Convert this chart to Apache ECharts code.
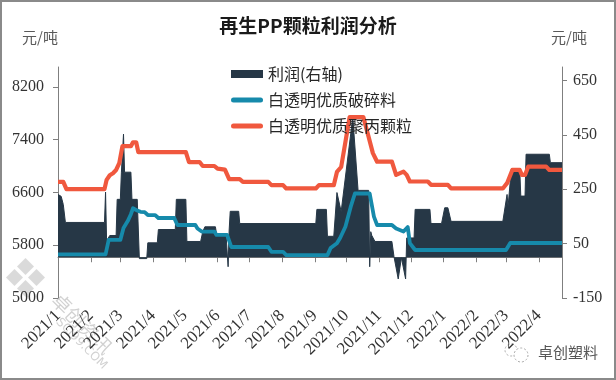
<!DOCTYPE html>
<html><head><meta charset="utf-8">
<script src="https://cdn.jsdelivr.net/npm/echarts@6/dist/echarts.min.js"></script>
<style>
html,body{margin:0;padding:0;background:#fff;}
#chart{position:absolute;left:0;top:0;width:616px;height:380px;}
#frame{position:absolute;left:0;top:0;width:616px;height:380px;box-sizing:border-box;border:2px solid #8a8a8a;pointer-events:none;}
</style></head>
<body>
<div id="chart"></div><div id="frame"></div>
<script>
const monthLabels = ['2021/1','2021/2','2021/3','2021/4','2021/5','2021/6','2021/7','2021/8','2021/9','2021/10','2021/11','2021/12','2022/1','2022/2','2022/3','2022/4'];
const leftTicks = [5000, 5800, 6600, 7400, 8200];
const rightTicks = [-150, 50, 250, 450, 650];

const profitDates = ['2021-01-01','2021-01-04','2021-01-06','2021-01-08','2021-02-14','2021-02-15','2021-02-16','2021-02-19','2021-02-25','2021-02-26','2021-03-01','2021-03-02','2021-03-03','2021-03-04','2021-03-05','2021-03-11','2021-03-12','2021-03-17','2021-03-19','2021-03-26','2021-03-27','2021-04-05','2021-04-06','2021-04-22','2021-04-23','2021-05-02','2021-05-03','2021-05-16','2021-05-18','2021-05-20','2021-05-30','2021-05-31','2021-06-09','2021-06-11','2021-06-12','2021-06-13','2021-06-21','2021-06-22','2021-09-02','2021-09-03','2021-09-12','2021-09-13','2021-09-19','2021-09-22','2021-09-26','2021-10-07','2021-10-12','2021-10-22','2021-10-23','2021-10-24','2021-10-25','2021-10-28','2021-11-13','2021-11-15','2021-11-19','2021-11-22','2021-11-26','2021-11-27','2021-12-04','2021-12-05','2021-12-19','2021-12-20','2021-12-30','2022-01-02','2022-01-05','2022-01-08','2022-02-26','2022-03-02','2022-03-03','2022-03-06','2022-03-14','2022-03-15','2022-03-19','2022-03-20','2022-04-11','2022-04-12','2022-04-23'];
const profitValues = [231,224,194,128,128,240,60,80,80,213,213,313,313,453,313,313,213,213,-5,-5,53,53,102,102,213,213,58,58,94,112,112,85,85,-35,100,169,169,124,124,176,176,77,77,238,168,516,246,246,-35,94,80,58,58,2,-80,-2,-80,71,71,176,176,124,124,182,182,132,132,231,188,324,324,225,225,379,379,348,348];

const blueDates = ['2021-01-01','2021-02-15','2021-02-18','2021-03-01','2021-03-04','2021-03-08','2021-03-11','2021-03-13','2021-03-17','2021-03-20','2021-03-24','2021-03-27','2021-04-03','2021-04-06','2021-04-21','2021-04-24','2021-05-11','2021-05-13','2021-05-17','2021-05-29','2021-05-31','2021-06-10','2021-06-14','2021-07-19','2021-07-22','2021-08-02','2021-08-05','2021-09-13','2021-09-16','2021-09-22','2021-09-25','2021-09-30','2021-10-05','2021-10-09','2021-10-23','2021-10-27','2021-10-30','2021-11-13','2021-11-17','2021-11-24','2021-11-28','2021-11-30','2021-12-05','2022-03-01','2022-03-05','2022-04-23'];
const blueValues = [5660,5660,5880,5880,6060,6165,6270,6360,6325,6305,6300,6257,6257,6212,6212,6106,6106,6053,6007,6007,5955,5955,5773,5773,5700,5700,5650,5650,5757,5829,5909,6080,6380,6583,6583,6232,6106,6106,6053,6007,6075,5833,5727,5727,5833,5833];

const redDates = ['2021-01-01','2021-01-06','2021-01-09','2021-02-14','2021-02-16','2021-02-19','2021-02-22','2021-02-25','2021-02-28','2021-03-03','2021-03-11','2021-03-13','2021-03-16','2021-03-18','2021-05-02','2021-05-05','2021-05-15','2021-05-18','2021-05-29','2021-06-01','2021-06-08','2021-06-12','2021-06-22','2021-06-25','2021-07-19','2021-07-22','2021-08-02','2021-08-05','2021-09-02','2021-09-05','2021-09-19','2021-09-22','2021-09-26','2021-10-04','2021-10-17','2021-10-22','2021-10-26','2021-10-30','2021-11-13','2021-11-17','2021-11-24','2021-11-27','2021-11-30','2021-12-17','2021-12-20','2022-01-05','2022-01-08','2022-02-26','2022-03-02','2022-03-07','2022-03-14','2022-03-16','2022-03-19','2022-03-22','2022-04-08','2022-04-11','2022-04-23'];
const redValues = [6760,6760,6650,6650,6790,6860,6890,6940,7045,7300,7300,7360,7360,7210,7210,7060,7060,7000,7000,6960,6945,6800,6800,6760,6760,6710,6710,6660,6660,6710,6710,6910,6985,7740,7740,7440,7195,7065,7065,6865,6915,6865,6765,6765,6715,6715,6660,6660,6740,6940,6940,6865,6865,6990,6990,6940,6940];

const seriesNames = ['利润(右轴)', '白透明优质破碎料', '白透明优质聚丙颗粒'];
const navy = '#263746', blue = '#168aab', red = '#f0583e';

function toTs(s){ const p = s.split('-').map(Number); return Date.UTC(p[0], p[1]-1, p[2]); }
function zip(d, v){ return d.map((x,i)=>[toTs(x), v[i]]); }
const monthTs = monthLabels.map(l => { const p = l.split('/').map(Number); return Date.UTC(p[0], p[1]-1, 1); });
const labelMap = {}; monthTs.forEach((t,i)=>labelMap[t]=monthLabels[i]);

const lineIcon = 'path://M0,0 M2.5,1.5 L29.5,1.5 A2.5,2.5 0 0 1 29.5,6.5 L2.5,6.5 A2.5,2.5 0 0 1 2.5,1.5 Z M32,8';
const serif = "'Liberation Serif', 'Times New Roman', serif";
const cjk = "'Noto Sans CJK SC', sans-serif";
const wm = 'rgba(150,150,150,0.35)';

const chart = echarts.init(document.getElementById('chart'), null, {renderer:'canvas'});
chart.setOption({
  backgroundColor: '#fff',
  animation: false,
  title: { text: '再生PP颗粒利润分析', left: 'center', top: 11,
    textStyle: { fontSize: 19, fontWeight: 'bold', fontFamily: cjk, color: '#1a1a1a' } },
  legend: { orient: 'vertical', left: 231, top: 66, padding: 0, itemWidth: 32, itemHeight: 8, itemGap: 10,
    textStyle: { fontSize: 16, fontFamily: cjk, color: '#262626' },
    data: [ {name: seriesNames[0], icon: 'rect'}, {name: seriesNames[1], icon: lineIcon}, {name: seriesNames[2], icon: lineIcon} ] },
  grid: { left: 58, right: 54, top: 67, bottom: 82 },
  xAxis: { type: 'value', min: toTs('2021-01-01'), max: toTs('2022-04-23'),
    axisLine: { lineStyle: { color: '#7f7f7f', width: 1 } },
    axisTick: { show: true, length: 5, customValues: monthTs, lineStyle: { color: '#7f7f7f' } },
    axisLabel: { customValues: monthTs, rotate: 45, margin: 15, fontSize: 17, fontFamily: serif, color: '#333',
      formatter: v => labelMap[v] || '' },
    splitLine: { show: false } },
  yAxis: [
    { type: 'value', min: 5000, max: 8500, interval: 800, position: 'left',
      name: '元/吨', nameLocation: 'end', nameGap: 22,
      nameTextStyle: { fontSize: 15, fontFamily: cjk, color: '#595959', align: 'right', padding: [0, 0, 0, 0] },
      axisLine: { show: true, lineStyle: { color: '#7f7f7f' } },
      axisTick: { show: true, length: 5, customValues: leftTicks, lineStyle: { color: '#7f7f7f' } },
      axisLabel: { customValues: leftTicks, margin: 14, fontSize: 16, fontFamily: serif, color: '#333', formatter: v => String(v) },
      splitLine: { show: false } },
    { type: 'value', min: -150, max: 700, interval: 200, position: 'right',
      name: '元/吨', nameLocation: 'end', nameGap: 22,
      nameTextStyle: { fontSize: 15, fontFamily: cjk, color: '#595959', align: 'center', padding: [0, 0, 0, 14] },
      axisLine: { show: true, lineStyle: { color: '#7f7f7f' } },
      axisTick: { show: true, length: 5, customValues: rightTicks, lineStyle: { color: '#7f7f7f' } },
      axisLabel: { customValues: rightTicks, margin: 11, fontSize: 16, fontFamily: serif, color: '#333', formatter: v => String(v) },
      splitLine: { show: false } }
  ],
  series: [
    { name: seriesNames[0], type: 'line', yAxisIndex: 1, data: zip(profitDates, profitValues),
      symbol: 'none', color: navy, lineStyle: { width: 1, color: navy }, areaStyle: { color: navy, opacity: 1 },
      itemStyle: { color: navy }, z: 1 },
    { name: seriesNames[1], type: 'line', yAxisIndex: 0, data: zip(blueDates, blueValues),
      symbol: 'none', color: blue, lineStyle: { width: 3.8, color: blue, join: 'round' }, itemStyle: { color: blue }, z: 2 },
    { name: seriesNames[2], type: 'line', yAxisIndex: 0, data: zip(redDates, redValues),
      symbol: 'none', color: red, lineStyle: { width: 4.2, color: red, join: 'round' }, itemStyle: { color: red }, z: 3 }
  ],
  graphic: [
    { type: 'group', left: 6, top: 258, children: [
      { type: 'rect', shape: { x: 0, y: 0, width: 12, height: 12 }, rotation: Math.PI/4, x: 22, y: 0, style: { fill: wm } },
      { type: 'rect', shape: { x: 0, y: 0, width: 12, height: 12 }, rotation: Math.PI/4, x: 11, y: 11, style: { fill: wm } },
      { type: 'rect', shape: { x: 0, y: 0, width: 12, height: 12 }, rotation: Math.PI/4, x: 33, y: 11, style: { fill: wm } },
      { type: 'rect', shape: { x: 0, y: 0, width: 12, height: 12 }, rotation: Math.PI/4, x: 22, y: 22, style: { fill: wm } }
    ]},
    { type: 'text', x: 62, y: 290, rotation: -Math.PI/4, style: { text: '卓创资讯', fontSize: 19, fontFamily: cjk, fill: 'rgba(140,140,140,0.4)' } },
    { type: 'text', x: 62, y: 316, rotation: -Math.PI/4, style: { text: 'SCI99.COM', fontSize: 12, fontFamily: 'DejaVu Sans', fill: 'rgba(140,140,140,0.4)' } },
    { type: 'circle', shape: { cx: 511, cy: 350, r: 6 }, style: { fill: 'none', stroke: '#aaa', lineWidth: 1, lineDash: [2, 2] } },
    { type: 'circle', shape: { cx: 521, cy: 355, r: 7 }, style: { fill: '#fff', stroke: '#aaa', lineWidth: 1, lineDash: [2, 2] } },
    { type: 'text', x: 538, y: 345, style: { text: '卓创塑料', fontSize: 15, fontFamily: cjk, fill: '#555' } }
  ]
});
</script>
</body></html>
